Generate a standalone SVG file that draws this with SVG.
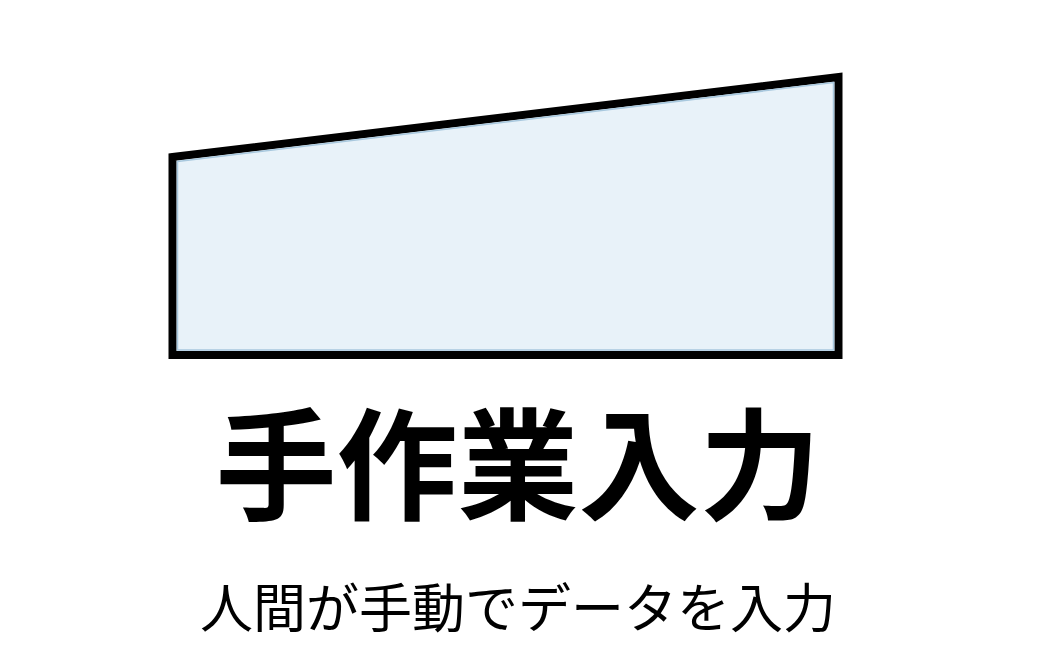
<svg xmlns="http://www.w3.org/2000/svg" width="1040" height="672" viewBox="0 0 1040 672">
<style>
.shape{fill:#E8F2F9;stroke:#000;stroke-width:8;stroke-linejoin:miter}
.inner{fill:none;stroke:#A8C8DE;stroke-width:1.5}
.title{font-family:"Noto Sans CJK JP","Noto Sans CJK SC",sans-serif;font-weight:700;font-size:121px;fill:#000;text-anchor:middle}
.sub{font-family:"Noto Sans CJK JP","Noto Sans CJK SC",sans-serif;font-weight:400;font-size:53px;fill:#000;text-anchor:middle}
</style>
<rect width="1040" height="672" fill="#fff"/>
<g id="manual-input">
<polygon class="shape" points="172.5,157 838.5,77 838.5,355 172.5,355"/>
<polygon class="inner" points="177.5,161.5 833.5,82.5 833.5,350 177.5,350"/>
</g>
<g id="connectors"></g>
<g id="labels">
<text class="title" x="518" y="510">手作業入力</text>
<text class="sub" x="518" y="628">人間が手動でデータを入力</text>
</g>
</svg>
